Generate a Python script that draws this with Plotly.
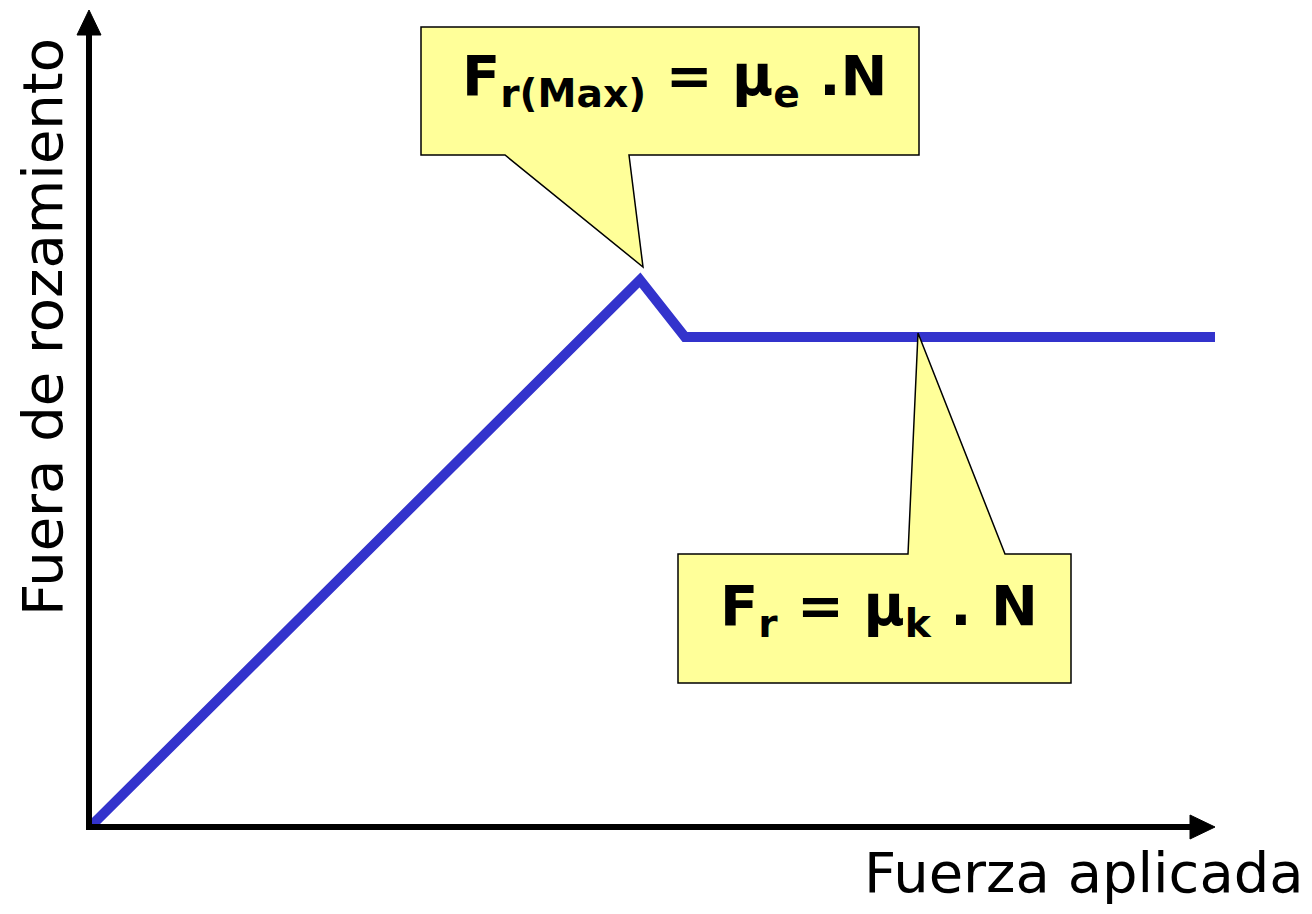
import plotly.graph_objects as go

# Data (x: fuerza aplicada, y: fuerza de rozamiento), arbitrary units
fuerza_aplicada = [0.0, 5.48, 5.93, 11.23]
fuerza_rozamiento = [0.0, 5.45, 4.88, 4.88]

x_title = "Fuerza aplicada"
y_title = "Fuera de rozamiento"
label_static = "<b>F<sub>r(Max)</sub> = μ<sub>e</sub> .N</b>"
label_kinetic = "<b>F<sub>r</sub> = μ<sub>k</sub> . N</b>"

W, H = 1312, 914
OFF = 8  # page body offset in the browser
# screen px -> data units: 100 px per unit, origin at screen (92, 825)
XR = [(OFF - 92) / 100, (OFF + W - 92) / 100]
YR = [(825 - (OFF + H)) / 100, (825 - OFF) / 100]


def px(sx):
    return (sx - OFF) / W


def py(sy):
    return 1 - (sy - OFF) / H


fig = go.Figure()
fig.add_trace(go.Scatter(
    x=fuerza_aplicada, y=fuerza_rozamiento, mode="lines",
    line=dict(color="#3333CC", width=10), hoverinfo="skip", showlegend=False,
))

shapes = []
# axes lines
shapes.append(dict(type="line", xref="x", yref="y", x0=-0.03, y0=-0.05, x1=-0.03, y1=7.95,
                   line=dict(color="black", width=6)))
shapes.append(dict(type="line", xref="x", yref="y", x0=-0.06, y0=-0.02, x1=11.0, y1=-0.02,
                   line=dict(color="black", width=6)))
# arrowheads
shapes.append(dict(type="path", xref="x", yref="y",
                   path="M -0.15,7.90 L 0.09,7.90 L -0.03,8.15 Z",
                   fillcolor="black", line=dict(color="black", width=1)))
shapes.append(dict(type="path", xref="x", yref="y",
                   path="M 10.98,0.10 L 10.98,-0.14 L 11.23,-0.02 Z",
                   fillcolor="black", line=dict(color="black", width=1)))


def callout(box, tail_l, tail_r, tip, top_tail):
    x0, x1, y0, y1 = box  # y1 top, y0 bottom
    if top_tail:
        p = (f"M {x0},{y0} L {x0},{y1} L {tail_l},{y1} L {tip[0]},{tip[1]} "
             f"L {tail_r},{y1} L {x1},{y1} L {x1},{y0} Z")
    else:
        p = (f"M {x0},{y1} L {x1},{y1} L {x1},{y0} L {tail_r},{y0} L {tip[0]},{tip[1]} "
             f"L {tail_l},{y0} L {x0},{y0} Z")
    return dict(type="path", xref="x", yref="y", path=p, fillcolor="#FFFF99",
                line=dict(color="black", width=1.5))


# callout pointing to maximum static friction (tail from bottom)
peak = (fuerza_aplicada[1] + 0.03, fuerza_rozamiento[1] + 0.13)
shapes.append(callout((3.29, 8.27, 6.70, 7.98), 4.13, 5.37, peak, top_tail=False))
# callout pointing to kinetic friction plateau (tail from top)
kin = (8.26, fuerza_rozamiento[2] + 0.04)
shapes.append(callout((5.86, 9.79, 1.42, 2.71), 8.16, 9.13, kin, top_tail=True))

annotations = [
    dict(x=3.68, y=7.46, xref="x", yref="y", text=label_static, showarrow=False,
         font=dict(family="DejaVu Sans", size=56, color="black"), xanchor="left", yanchor="middle"),
    dict(x=6.26, y=2.16, xref="x", yref="y", text=label_kinetic, showarrow=False,
         font=dict(family="DejaVu Sans", size=56, color="black"), xanchor="left", yanchor="middle"),
    dict(x=px(1306), y=py(907), xref="paper", yref="paper", text=x_title, showarrow=False,
         font=dict(family="DejaVu Sans", size=56, color="black"), xanchor="right", yanchor="bottom"),
    dict(x=px(42), y=py(327), xref="paper", yref="paper", text=y_title, showarrow=False,
         textangle=-90, font=dict(family="DejaVu Sans", size=56, color="black"),
         xanchor="center", yanchor="middle"),
]

fig.update_layout(
    width=W, height=H, margin=dict(l=0, r=0, t=0, b=0),
    paper_bgcolor="white", plot_bgcolor="white",
    xaxis=dict(range=XR, visible=False, fixedrange=True),
    yaxis=dict(range=YR, visible=False, fixedrange=True),
    shapes=shapes, annotations=annotations, showlegend=False,
)
fig.write_html("out.html")
